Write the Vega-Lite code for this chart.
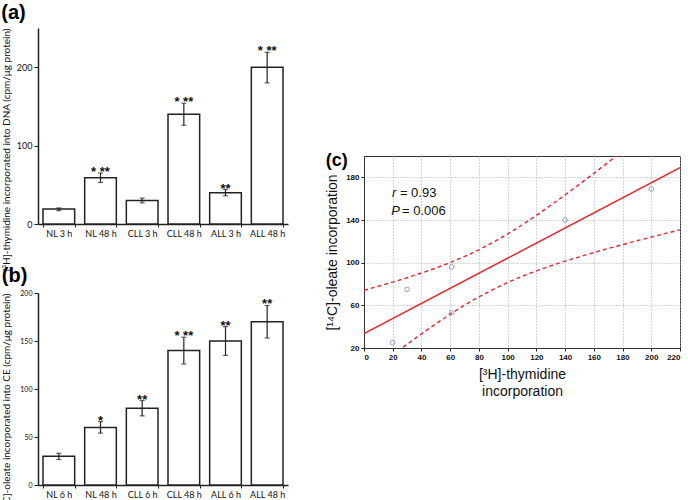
{
  "$schema": "https://vega.github.io/schema/vega-lite/v6.json",
  "padding": {"left": 1, "top": 3, "right": 0, "bottom": 0},
  "background": "white",
  "datasets": {
    "a": [
      {"g": "NL 3 h", "mean": 19, "lo": 17, "hi": 20.5, "star": ""},
      {"g": "NL 48 h", "mean": 59, "lo": 53, "hi": 65, "star": "*  **"},
      {"g": "CLL 3 h", "mean": 30, "lo": 27, "hi": 33, "star": ""},
      {"g": "CLL 48 h", "mean": 140, "lo": 126, "hi": 154, "star": "*    **"},
      {"g": "ALL 3 h", "mean": 40, "lo": 36, "hi": 44, "star": "**"},
      {"g": "ALL 48 h", "mean": 200, "lo": 180, "hi": 219, "star": "*  **"}
    ],
    "b": [
      {"g": "NL 6 h", "mean": 30, "lo": 26.5, "hi": 33, "star": ""},
      {"g": "NL 48 h", "mean": 60, "lo": 54, "hi": 66, "star": "*"},
      {"g": "CLL 6 h", "mean": 80, "lo": 72, "hi": 88, "star": "**"},
      {"g": "CLL 48 h", "mean": 140, "lo": 126, "hi": 154, "star": "*  **"},
      {"g": "ALL 6 h", "mean": 150, "lo": 135, "hi": 165, "star": "**"},
      {"g": "ALL 48 h", "mean": 170, "lo": 153, "hi": 187, "star": "**"}
    ],
    "pts": [
      {"x": 20, "y": 25},
      {"x": 30, "y": 75},
      {"x": 61, "y": 96},
      {"x": 61, "y": 53},
      {"x": 140, "y": 140},
      {"x": 200, "y": 169}
    ],
    "fit": [
      {"x": 0, "y": 33.5},
      {"x": 220, "y": 189}
    ],
    "ci": [
      {"x": 0, "upper": 74.1, "lower": -7.1},
      {"x": 10, "upper": 77.9, "lower": 3.3},
      {"x": 20, "upper": 81.7, "lower": 13.5},
      {"x": 30, "upper": 85.9, "lower": 23.5},
      {"x": 40, "upper": 90.3, "lower": 33.3},
      {"x": 50, "upper": 94.9, "lower": 42.7},
      {"x": 60, "upper": 100.1, "lower": 51.7},
      {"x": 70, "upper": 105.8, "lower": 60.2},
      {"x": 80, "upper": 112.1, "lower": 67.9},
      {"x": 90, "upper": 119.2, "lower": 75.0},
      {"x": 100, "upper": 127.0, "lower": 81.4},
      {"x": 110, "upper": 135.3, "lower": 87.1},
      {"x": 120, "upper": 144.3, "lower": 92.3},
      {"x": 130, "upper": 153.8, "lower": 97.0},
      {"x": 140, "upper": 163.5, "lower": 101.5},
      {"x": 150, "upper": 173.5, "lower": 105.5},
      {"x": 160, "upper": 183.7, "lower": 109.5},
      {"x": 170, "upper": 194.1, "lower": 113.3},
      {"x": 180, "upper": 204.5, "lower": 116.9},
      {"x": 190, "upper": 215.1, "lower": 120.5},
      {"x": 200, "upper": 225.8, "lower": 124.0},
      {"x": 210, "upper": 236.4, "lower": 127.4},
      {"x": 220, "upper": 247.2, "lower": 130.8}
    ],
    "stats": [
      {"sym": "r", "rest": "= 0.93", "x": 19.5, "x2": 25, "y": 161.5},
      {"sym": "P", "rest": "= 0.006", "x": 19, "x2": 26.5, "y": 145}
    ]
  },
  "hconcat": [
    {
      "spacing": 69,
      "bounds": "flush",
      "vconcat": [
        {
          "title": {"text": "(a)", "anchor": "start", "frame": "bounds", "fontSize": 20, "fontWeight": "bold", "font": "Liberation Sans", "offset": 5},
          "width": 250,
          "height": 196,
          "data": {"name": "a"},
          "encoding": {
            "x": {"field": "g", "type": "nominal", "sort": null, "title": null,
              "scale": {"paddingInner": 0.24, "paddingOuter": 0.12},
              "axis": {"labelAngle": 0, "labelFontSize": 9, "labelFont": "Lato", "tickBand": "extent", "tickSize": 3, "domainWidth": 1.5, "labelPadding": 2}}
          },
          "layer": [
            {
              "mark": {"type": "bar", "fill": "white", "stroke": "#222", "strokeWidth": 1.5},
              "encoding": {
                "y": {"field": "mean", "type": "quantitative", "scale": {"domain": [0, 250], "nice": false},
                  "title": "[³H]-thymidine incorporated into DNA (cpm/μg protein)",
                  "axis": {"values": [0, 50, 100, 150, 200, 250], "labelOverlap": false, "tickSize": 4,
                    "labelFontSize": 9, "labelFont": "Lato", "titleFontSize": 10, "titleFont": "Lato", "titleFontWeight": "normal", "titleAnchor": "end", "domainWidth": 1.5, "titlePadding": 5}}
              }
            },
            {
              "mark": {"type": "rule", "color": "#222", "strokeWidth": 1.2},
              "encoding": {"y": {"field": "lo", "type": "quantitative"}, "y2": {"field": "hi"}}
            },
            {
              "mark": {"type": "tick", "color": "#222", "size": 5, "thickness": 1.2},
              "encoding": {"y": {"field": "lo", "type": "quantitative"}}
            },
            {
              "mark": {"type": "tick", "color": "#222", "size": 5, "thickness": 1.2},
              "encoding": {"y": {"field": "hi", "type": "quantitative"}}
            },
            {
              "mark": {"type": "text", "baseline": "alphabetic", "dy": 3, "fontSize": 13, "fontWeight": "bold", "font": "Liberation Sans", "color": "#111"},
              "encoding": {"y": {"field": "hi", "type": "quantitative"}, "text": {"field": "star"}}
            }
          ]
        },
        {
          "title": {"text": "(b)", "anchor": "start", "frame": "bounds", "fontSize": 20, "fontWeight": "bold", "font": "Liberation Sans", "offset": 3},
          "width": 250,
          "height": 192,
          "data": {"name": "b"},
          "encoding": {
            "x": {"field": "g", "type": "nominal", "sort": null, "title": null,
              "scale": {"paddingInner": 0.24, "paddingOuter": 0.12},
              "axis": {"labelAngle": 0, "labelFontSize": 9, "labelFont": "Lato", "tickBand": "extent", "tickSize": 3, "domainWidth": 1.5, "labelPadding": 2}}
          },
          "layer": [
            {
              "mark": {"type": "bar", "fill": "white", "stroke": "#222", "strokeWidth": 1.5},
              "encoding": {
                "y": {"field": "mean", "type": "quantitative", "scale": {"domain": [0, 200], "nice": false},
                  "title": "[¹⁴C]-oleate incorporated into CE  (cpm/μg protein)",
                  "axis": {"values": [0, 25, 50, 75, 100, 125, 150, 175, 200], "labelOverlap": false, "tickSize": 4,
                    "labelFontSize": 7, "labelFont": "Lato", "titleFontSize": 10, "titleFont": "Lato", "titleFontWeight": "normal", "titleAnchor": "end", "domainWidth": 1.5, "titlePadding": 8}}
              }
            },
            {
              "mark": {"type": "rule", "color": "#222", "strokeWidth": 1.2},
              "encoding": {"y": {"field": "lo", "type": "quantitative"}, "y2": {"field": "hi"}}
            },
            {
              "mark": {"type": "tick", "color": "#222", "size": 5, "thickness": 1.2},
              "encoding": {"y": {"field": "lo", "type": "quantitative"}}
            },
            {
              "mark": {"type": "tick", "color": "#222", "size": 5, "thickness": 1.2},
              "encoding": {"y": {"field": "hi", "type": "quantitative"}}
            },
            {
              "mark": {"type": "text", "baseline": "alphabetic", "dy": 3, "fontSize": 13, "fontWeight": "bold", "font": "Liberation Sans", "color": "#111"},
              "encoding": {"y": {"field": "hi", "type": "quantitative"}, "text": {"field": "star"}}
            }
          ]
        }
      ]
    },
    {
      "spacing": 0,
      "vconcat": [
        {
          "width": 10,
          "height": 123,
          "data": {"values": []},
          "mark": {"type": "point"},
          "encoding": {}
        },
        {
          "title": {"text": "(c)", "anchor": "start", "frame": "bounds", "fontSize": 18, "fontWeight": "bold", "font": "Liberation Sans", "offset": -14},
          "width": 316,
          "height": 192,
          "view": {"stroke": "#333", "strokeWidth": 1},
          "encoding": {
            "x": {"field": "x", "type": "quantitative",
              "scale": {"domain": [0, 220], "nice": false},
              "title": ["[³H]-thymidine", "incorporation"],
              "axis": {"values": [0, 20, 40, 60, 80, 100, 120, 140, 160, 180, 200, 220], "grid": true, "gridDash": [1, 2], "gridColor": "#aaa",
                "labelOverlap": false,
                "labelFontSize": 8, "labelFontWeight": "bold", "labelFont": "Liberation Sans", "tickSize": 3,
                "titleFontSize": 14, "titleFontWeight": "normal", "titleFont": "Liberation Sans", "titlePadding": 6, "titleLineHeight": 17, "domainColor": "#333"}}
          },
          "layer": [
            {
              "data": {"name": "ci"},
              "mark": {"type": "line", "color": "#e8262e", "strokeDash": [4, 3], "strokeWidth": 1.4, "clip": true},
              "encoding": {
                "y": {"field": "upper", "type": "quantitative", "scale": {"domain": [20, 200], "nice": false},
                  "title": "[¹⁴C]-oleate incorporation",
                  "axis": {"values": [20, 40, 60, 80, 100, 120, 140, 160, 180, 200], "grid": true, "gridDash": [1, 2], "gridColor": "#aaa",
                    "labelOverlap": false,
                    "labelFontSize": 8, "labelFontWeight": "bold", "labelFont": "Liberation Sans", "tickSize": 3,
                    "titleFontSize": 14, "titleFontWeight": "normal", "titleFont": "Liberation Sans", "titlePadding": 6, "domainColor": "#333"}}
              }
            },
            {
              "data": {"name": "ci"},
              "mark": {"type": "line", "color": "#e8262e", "strokeDash": [4, 3], "strokeWidth": 1.4, "clip": true},
              "encoding": {"y": {"field": "lower", "type": "quantitative"}}
            },
            {
              "data": {"name": "fit"},
              "mark": {"type": "line", "color": "#e8262e", "strokeWidth": 1.5, "clip": true},
              "encoding": {"y": {"field": "y", "type": "quantitative"}}
            },
            {
              "data": {"name": "pts"},
              "mark": {"type": "point", "shape": "circle", "filled": false, "size": 22, "color": "#6f6fc4", "strokeWidth": 1},
              "encoding": {"y": {"field": "y", "type": "quantitative"}}
            },
            {
              "data": {"name": "stats"},
              "mark": {"type": "text", "align": "left", "baseline": "alphabetic", "fontSize": 13, "fontStyle": "italic", "font": "Liberation Sans", "color": "#111"},
              "encoding": {"y": {"field": "y", "type": "quantitative"}, "text": {"field": "sym"}}
            },
            {
              "data": {"name": "stats"},
              "mark": {"type": "text", "align": "left", "baseline": "alphabetic", "fontSize": 13, "font": "Liberation Sans", "color": "#111"},
              "encoding": {"x": {"field": "x2", "type": "quantitative"}, "y": {"field": "y", "type": "quantitative"}, "text": {"field": "rest"}}
            }
          ]
        }
      ]
    }
  ],
  "spacing": 37,
  "config": {
    "view": {"stroke": null},
    "axis": {"domainColor": "#222", "tickColor": "#222", "labelColor": "#111", "titleColor": "#111", "grid": false, "labelOverlap": false}
  }
}
